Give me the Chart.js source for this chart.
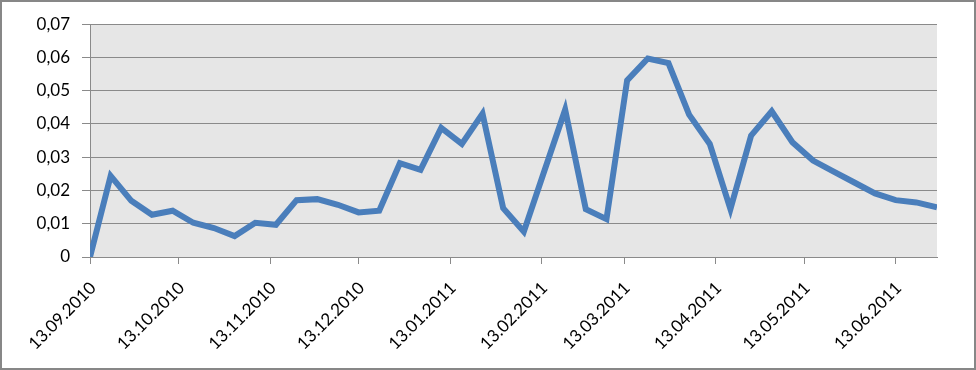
<!DOCTYPE html>
<html>
<head>
<meta charset="utf-8">
<script src="https://cdn.jsdelivr.net/npm/chart.js@4.4.1/dist/chart.umd.min.js"></script>
<style>
    html, body { margin: 0; padding: 0; background: #fff; }
    .frame {
        width: 976px;
        height: 370px;
        box-sizing: border-box;
        border: 2px solid #878787;
        background: #fff;
    }
    canvas { display: block; }
</style>
</head>
<body>
<div class="frame">
    <canvas id="chart" width="972" height="366"></canvas>
</div>
<script>
// Weekly observation dates
const dates = [
    '13.09.2010', '20.09.2010', '27.09.2010', '04.10.2010', '11.10.2010', '18.10.2010',
    '25.10.2010', '01.11.2010', '08.11.2010', '15.11.2010', '22.11.2010', '29.11.2010',
    '06.12.2010', '13.12.2010', '20.12.2010', '27.12.2010', '03.01.2011', '10.01.2011',
    '17.01.2011', '24.01.2011', '31.01.2011', '07.02.2011', '14.02.2011', '21.02.2011',
    '28.02.2011', '07.03.2011', '14.03.2011', '21.03.2011', '28.03.2011', '04.04.2011',
    '11.04.2011', '18.04.2011', '25.04.2011', '02.05.2011', '09.05.2011', '16.05.2011',
    '23.05.2011', '30.05.2011', '06.06.2011', '13.06.2011', '20.06.2011', '27.06.2011'
];

// Values
const values = [
    0, 0.0244, 0.0169, 0.0127, 0.0139, 0.0103, 0.0087, 0.0063, 0.0103, 0.0097,
    0.0171, 0.0174, 0.0157, 0.0134, 0.0139, 0.0282, 0.0262, 0.0388, 0.034, 0.0431,
    0.0147, 0.0076, 0.026, 0.0443, 0.0144, 0.0114, 0.0531, 0.0597, 0.0583, 0.0428,
    0.034, 0.0144, 0.0365, 0.0438, 0.0345, 0.029, 0.0257, 0.0224, 0.0191, 0.0171,
    0.0164, 0.0149
];

// Date axis tick labels (monthly)
const xTickLabels = [
    '13.09.2010', '13.10.2010', '13.11.2010', '13.12.2010', '13.01.2011',
    '13.02.2011', '13.03.2011', '13.04.2011', '13.05.2011', '13.06.2011'
];

const yTicks = [0, 0.01, 0.02, 0.03, 0.04, 0.05, 0.06, 0.07];

// days since the first date
function dayOf(s) {
    const [d, m, y] = s.split('.').map(Number);
    const [d0, m0, y0] = dates[0].split('.').map(Number);
    return Math.round((Date.UTC(y, m - 1, d) - Date.UTC(y0, m0 - 1, d0)) / 86400000);
}

const points = dates.map((d, i) => ({ x: dayOf(d), y: values[i] }));

const plotBackground = {
    id: 'plotBackground',
    beforeDraw(chart) {
        const { ctx, chartArea: a } = chart;
        ctx.save();
        ctx.fillStyle = '#e6e6e6';
        ctx.fillRect(a.left, a.top, a.right - a.left, a.bottom - a.top);
        ctx.restore();
    }
};

const gridGray = '#8a8a8a';
const font = { family: 'Lato, "Open Sans", sans-serif', size: 17 };

new Chart(document.getElementById('chart').getContext('2d'), {
    type: 'line',
    data: {
        datasets: [{
            data: points,
            borderColor: '#4a7ebb',
            borderWidth: 6,
            pointRadius: 0,
            tension: 0,
            fill: false
        }]
    },
    options: {
        responsive: false,
        animation: false,
        layout: { padding: { top: 22, right: 37, left: 0, bottom: 0 } },
        plugins: {
            legend: { display: false },
            tooltip: { enabled: false }
        },
        scales: {
            x: {
                type: 'linear',
                min: 0,
                max: dayOf(dates[dates.length - 1]),
                afterBuildTicks(scale) {
                    scale.ticks = xTickLabels.map(l => ({ value: dayOf(l) }));
                },
                afterFit(scale) { scale.height = 111; },
                border: { display: true, color: gridGray, width: 1 },
                grid: {
                    drawOnChartArea: false,
                    drawTicks: true,
                    tickLength: 7,
                    color: gridGray
                },
                ticks: {
                    autoSkip: false,
                    minRotation: 45,
                    maxRotation: 45,
                    padding: 14,
                    labelOffset: 3,
                    color: '#000',
                    font: font,
                    callback: (v, i) => xTickLabels[i]
                }
            },
            y: {
                min: 0,
                max: 0.07,
                afterBuildTicks(scale) {
                    scale.ticks = yTicks.map(v => ({ value: v }));
                },
                afterFit(scale) { scale.width = 88; },
                border: { display: true, color: gridGray, width: 1 },
                grid: {
                    color: gridGray,
                    tickLength: 8,
                    lineWidth: 1
                },
                ticks: {
                    padding: 12,
                    color: '#000',
                    font: font,
                    callback: v => v === 0 ? '0' : v.toFixed(2).replace('.', ',')
                }
            }
        }
    },
    plugins: [plotBackground]
});
</script>
</body>
</html>
